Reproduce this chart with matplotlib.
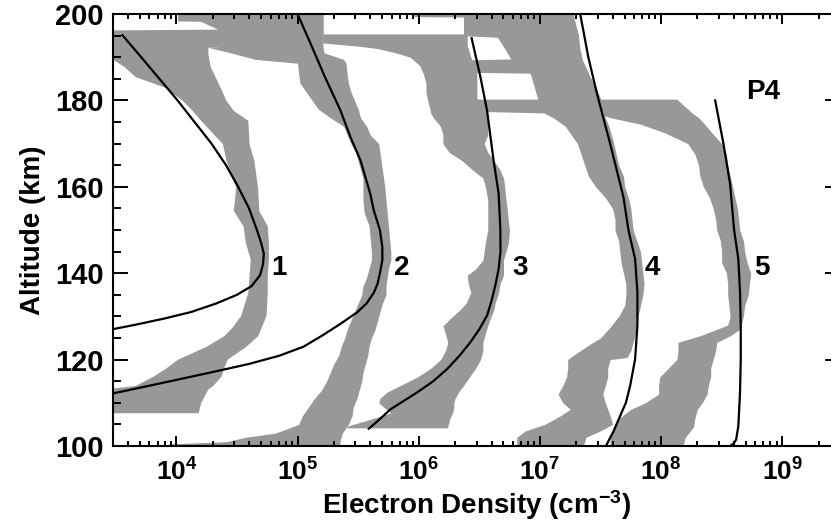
import numpy as np
import matplotlib
matplotlib.use('Agg')
import matplotlib.pyplot as plt
from matplotlib.ticker import MultipleLocator, FixedLocator, FuncFormatter, NullFormatter

plt.rcParams['font.family'] = ['Liberation Sans', 'DejaVu Sans']
plt.rcParams['font.weight'] = 'bold'
plt.rcParams['mathtext.fontset'] = 'custom'
plt.rcParams['mathtext.rm'] = 'Liberation Sans:bold'
plt.rcParams['mathtext.bf'] = 'Liberation Sans:bold'
plt.rcParams['mathtext.it'] = 'Liberation Sans:bold'

# measured profiles (gray bands): altitude (km) and log10 of lower/upper electron density
b1_alt = [200, 198.4, 198.3, 196.5, 196.3, 195.5, 193.3, 192.3, 190.9, 187.8, 185.5, 183.1, 180, 177.7, 175.4,
          170, 166.1, 159.9, 154.5, 151, 147, 143.3, 139.5, 135.6, 130.2, 127.5, 125.5, 123, 120.1, 118,
          116.2, 114, 113.2, 110, 107.7]
b1_lo = [4.01, 4.01, 4.2, 4.34, 3.4, 3.4, 3.4, 3.4, 3.4, 3.57, 3.66, 3.9, 4.05, 4.13, 4.2,
         4.38, 4.41, 4.49, 4.47, 4.55, 4.57, 4.61, 4.6, 4.59, 4.53, 4.46, 4.39, 4.24, 4.01, 3.91,
         3.81, 3.66, 3.4, 3.4, 3.4]
b1_hi = [5.21, 5.21, 5.21, 5.21, 5.21, 5.21, 5.21, 4.26, 4.26, 4.28, 4.32, 4.36, 4.41, 4.47, 4.59,
         4.6, 4.64, 4.67, 4.68, 4.75, 4.76, 4.76, 4.75, 4.75, 4.74, 4.7, 4.67, 4.57, 4.42, 4.39,
         4.37, 4.3, 4.26, 4.2, 4.18]

b2_alt = [200, 196, 193.5, 192.3, 191, 189.5, 188.6, 186, 184, 182, 180, 178, 176, 174, 172, 170, 168,
          166, 164, 162, 160, 157, 154, 151, 148, 145, 143, 141, 139, 137, 135, 133, 131, 129, 127,
          125, 123, 121, 119, 117, 115, 113, 111, 109, 107, 105, 103, 102, 101, 100.5, 100]
b2_lo = [5.0, 5.0, 5.0, 4.26, 4.45, 4.65, 5.0, 5.01, 5.02, 5.07, 5.12, 5.17, 5.27, 5.38, 5.41, 5.44,
         5.48, 5.5, 5.52, 5.54, 5.54, 5.54, 5.55, 5.59, 5.6, 5.61, 5.61, 5.59, 5.57, 5.54, 5.53, 5.5,
         5.47, 5.44, 5.41, 5.39, 5.36, 5.34, 5.3, 5.27, 5.24, 5.2, 5.14, 5.09, 5.04, 5.01, 4.82, 4.57,
         4.41, 3.95, 3.93]
b2_hi = [5.21, 5.21, 5.21, 5.21, 5.22, 5.38, 5.4, 5.41, 5.42, 5.44, 5.47, 5.5, 5.52, 5.57, 5.6, 5.67,
         5.68, 5.69, 5.7, 5.71, 5.72, 5.73, 5.74, 5.75, 5.76, 5.77, 5.77, 5.75, 5.74, 5.73, 5.73, 5.7,
         5.68, 5.66, 5.64, 5.61, 5.59, 5.58, 5.56, 5.54, 5.53, 5.51, 5.49, 5.46, 5.45, 5.42, 5.37, 5.36,
         5.35, 5.35, 5.35]

b3_alt = [195.4, 193.3, 192.5, 192, 191, 190, 188, 186, 184, 182, 180.5, 177, 176, 174, 172, 170, 168,
          166, 164, 162, 160, 157, 155, 152, 150, 147, 145, 143, 141, 139.5, 137.5, 135.5, 133, 131.5,
          129.5, 127.8, 126, 124, 122, 120, 118, 116, 114, 112.5, 111, 110, 109, 107.7, 106.5, 105.5,
          104.6, 104.2]
b3_lo = [5.21, 5.21, 5.52, 5.66, 5.81, 5.93, 6.01, 6.04, 6.06, 6.06, 6.07, 6.1, 6.12, 6.18, 6.2, 6.2,
         6.25, 6.36, 6.44, 6.53, 6.55, 6.57, 6.57, 6.57, 6.57, 6.55, 6.54, 6.53, 6.47, 6.4, 6.41, 6.43,
         6.39, 6.34, 6.26, 6.2, 6.22, 6.24, 6.22, 6.18, 6.1, 5.99, 5.85, 5.74, 5.68, 5.67, 5.71, 5.77,
         5.64, 5.52, 5.41, 5.41]
b3_hi = [6.4, 6.4, 6.4, 6.41, 6.42, 6.43, 6.47, 6.48, 6.48, 6.48, 6.48, 6.57, 6.57, 6.57, 6.57, 6.54,
         6.57, 6.62, 6.67, 6.7, 6.71, 6.72, 6.73, 6.74, 6.75, 6.74, 6.72, 6.7, 6.7, 6.7, 6.67, 6.66,
         6.63, 6.62, 6.59, 6.57, 6.55, 6.53, 6.53, 6.51, 6.47, 6.42, 6.37, 6.33, 6.3, 6.29, 6.29, 6.28,
         6.26, 6.25, 6.24, 6.24]

b4_alt = [200, 199.4, 199.3, 195, 194.6, 192, 189.6, 189.4, 186.5, 186.3, 182.5, 180.5, 177, 176, 174,
          172, 170, 167.5, 165, 162.5, 160, 157.5, 155, 152.5, 150, 147.5, 145, 142.5, 140, 137.5, 135,
          132.5, 130, 127.5, 125, 124, 122, 120.5, 120, 118, 116, 114, 112, 110, 108.5, 107, 105, 103.5,
          102, 100]
b4_lo = [5.96, 5.96, 6.37, 6.37, 6.65, 6.71, 6.76, 6.43, 6.43, 6.92, 6.96, 6.98, 7.04, 7.11, 7.21,
         7.26, 7.31, 7.34, 7.37, 7.4, 7.46, 7.54, 7.6, 7.62, 7.62, 7.65, 7.66, 7.67, 7.69, 7.71, 7.71,
         7.7, 7.65, 7.58, 7.5, 7.44, 7.33, 7.25, 7.23, 7.23, 7.22, 7.19, 7.15, 7.19, 7.25, 7.17, 7.04,
         6.88, 6.81, 6.81]
b4_hi = [7.28, 7.28, 7.28, 7.32, 7.32, 7.33, 7.35, 7.35, 7.4, 7.4, 7.47, 7.5, 7.53, 7.54, 7.57, 7.59,
         7.61, 7.63, 7.65, 7.69, 7.7, 7.73, 7.75, 7.76, 7.77, 7.8, 7.83, 7.84, 7.85, 7.86, 7.85, 7.83,
         7.81, 7.8, 7.78, 7.77, 7.75, 7.72, 7.58, 7.56, 7.56, 7.54, 7.52, 7.54, 7.56, 7.58, 7.6, 7.5,
         7.38, 7.36]

b5_alt = [180.3, 177.5, 176.8, 176, 174.5, 172.5, 170, 167.5, 165, 162.5, 160, 157.5, 155, 152.5, 150,
          147.5, 145, 142.5, 140, 137.5, 135, 132.5, 130, 128, 127, 125.5, 124, 122, 120, 118, 116, 114,
          112, 110, 108.5, 106.5, 104.5, 102, 100]
b5_lo = [6.43, 6.43, 7.5, 7.58, 7.83, 8.03, 8.22, 8.28, 8.31, 8.32, 8.35, 8.4, 8.43, 8.45, 8.46, 8.49,
         8.5, 8.5, 8.54, 8.55, 8.55, 8.56, 8.57, 8.55, 8.46, 8.32, 8.14, 8.14, 8.13, 8.06, 7.99, 7.98,
         7.98, 7.87, 7.75, 7.66, 7.61, 7.58, 7.58]
b5_hi = [8.13, 8.24, 8.27, 8.31, 8.36, 8.42, 8.5, 8.54, 8.55, 8.57, 8.59, 8.61, 8.63, 8.64, 8.65, 8.68,
         8.69, 8.71, 8.74, 8.73, 8.72, 8.69, 8.68, 8.66, 8.65, 8.57, 8.46, 8.45, 8.43, 8.41, 8.41, 8.39,
         8.38, 8.34, 8.3, 8.28, 8.27, 8.2, 8.18]

# model curves: altitude (km) and log10 electron density
c1_alt = [195.1, 190, 185, 180, 175, 170, 165, 160, 155, 150, 147, 144.5, 142, 139.5, 137, 135, 133,
          131, 129.5, 128, 126.9]
c1_log = [3.555, 3.71, 3.86, 4.01, 4.15, 4.29, 4.41, 4.51, 4.6, 4.665, 4.7, 4.722, 4.715, 4.69, 4.62,
          4.5, 4.33, 4.12, 3.9, 3.65, 3.45]
c2_alt = [200, 193.2, 185.5, 177.7, 171.5, 166.1, 158.4, 154.5, 150, 146, 143, 140, 137.5, 135.5, 133,
          130.9, 128.2, 125.5, 123, 120.9, 119, 117, 115, 113.5, 112]
c2_log = [5.0, 5.107, 5.225, 5.354, 5.437, 5.52, 5.6, 5.63, 5.68, 5.7, 5.7, 5.68, 5.66, 5.63, 5.57,
          5.49, 5.35, 5.2, 5.05, 4.85, 4.6, 4.28, 3.95, 3.7, 3.45]
c3_alt = [194.4, 185.5, 177.7, 166.1, 158.4, 150, 145, 141, 137.1, 133.5, 130.2, 127, 124, 121, 117.8,
          115, 112.4, 110.5, 108.5, 106, 104]
c3_log = [6.437, 6.509, 6.564, 6.618, 6.66, 6.674, 6.675, 6.66, 6.632, 6.6, 6.564, 6.5, 6.426, 6.34,
          6.234, 6.12, 5.987, 5.88, 5.767, 5.67, 5.588]
c4_alt = [200, 190, 181.6, 170, 157.6, 150, 143.3, 135.6, 127.8, 120.1, 113.9, 110, 107, 103.5, 100]
c4_log = [7.333, 7.4, 7.471, 7.58, 7.69, 7.731, 7.786, 7.805, 7.805, 7.786, 7.745, 7.71, 7.663, 7.61, 7.545]
c5_alt = [180, 170, 160.7, 150, 143.3, 135.6, 127.8, 120.1, 112.4, 104.6, 101.5, 100.6, 100]
c5_log = [8.447, 8.515, 8.57, 8.603, 8.638, 8.652, 8.658, 8.658, 8.652, 8.638, 8.62, 8.6, 8.57]

profile_labels = ['1', '2', '3', '4', '5']
label_log_x = [4.85, 5.86, 6.84, 7.93, 8.83]
decades = [4, 5, 6, 7, 8, 9]

bands = [(b1_alt, b1_lo, b1_hi), (b2_alt, b2_lo, b2_hi), (b3_alt, b3_lo, b3_hi),
         (b4_alt, b4_lo, b4_hi), (b5_alt, b5_lo, b5_hi)]
curves = [(c1_alt, c1_log), (c2_alt, c2_log), (c3_alt, c3_log), (c4_alt, c4_log), (c5_alt, c5_log)]

fig = plt.figure(figsize=(8.31, 5.22), dpi=100)
# right spine sits just past the image edge, as in the original
ax = fig.add_axes([113 / 831, 1 - 446 / 522, 727 / 831, 432 / 522])

for alt, lo, hi in bands:
    ax.fill_betweenx(alt, 10 ** np.array(lo), 10 ** np.array(hi), color='#989898', lw=0)

for alt, lg in curves:
    ax.plot(10 ** np.array(lg), alt, color='black', lw=1.6)

for lab, lx in zip(profile_labels, label_log_x):
    ax.text(10 ** lx, 141.3, lab, ha='center', va='center', fontsize=20, fontweight='bold')
ax.text(10 ** 8.84, 182, 'P4', ha='center', va='center', fontsize=20, fontweight='bold')

ax.set_xscale('log')
ax.set_xlim(3e3, 3e9)
ax.set_ylim(100, 200)

minor_x = [m * 10.0 ** d for d in range(3, 10) for m in range(2, 10)]
ax.xaxis.set_major_locator(FixedLocator([10.0 ** d for d in decades]))
ax.xaxis.set_minor_locator(FixedLocator([v for v in minor_x if 3e3 <= v <= 3e9]))
ax.xaxis.set_major_formatter(FuncFormatter(lambda v, p: r'$\mathbf{10^{%d}}$' % round(np.log10(v))))
ax.xaxis.set_minor_formatter(NullFormatter())
ax.yaxis.set_major_locator(MultipleLocator(20))
ax.yaxis.set_minor_locator(MultipleLocator(5))

ax.tick_params(which='both', direction='in', top=True, right=True, width=1.4, colors='black')
ax.tick_params(axis='x', which='major', length=7, labelsize=19, pad=9)
ax.tick_params(axis='x', which='minor', length=3.5)
ax.tick_params(axis='y', which='major', length=11, labelsize=21, pad=7)
ax.tick_params(axis='y', which='minor', length=5.8)
for lbl in ax.get_yticklabels():
    lbl.set_fontweight('bold')
for sp in ax.spines.values():
    sp.set_linewidth(1.5)

ax.set_xlabel('Electron Density (cm$^{-3}$)', fontsize=20, fontweight='bold', labelpad=2)
ax.set_ylabel('Altitude (km)', fontsize=20, fontweight='bold', labelpad=6)

fig.savefig('out.png', dpi=100)
